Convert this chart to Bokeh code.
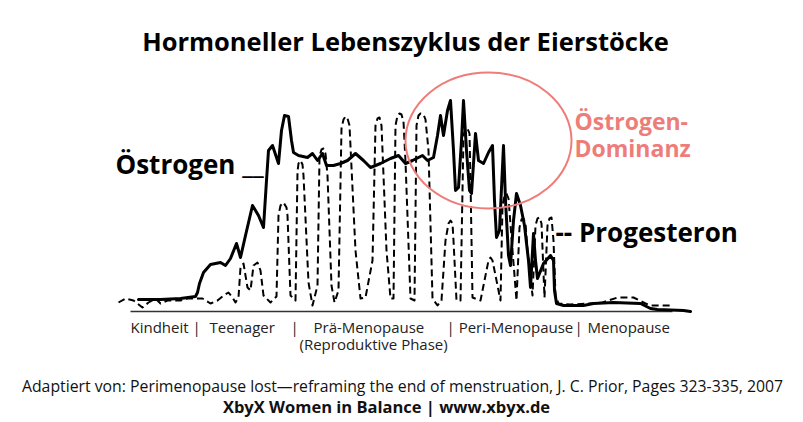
from bokeh.plotting import figure
from bokeh.models import Range1d
from bokeh.core.properties import value
from bokeh.embed import file_html
from bokeh.resources import INLINE

# --- data (x = time axis, y = hormone level above baseline) ---
estrogen_x = [138, 160, 180, 195, 197, 199, 203, 210, 220, 225, 230, 236, 238, 240, 245, 252, 258, 263,
              266, 268, 272, 278, 281, 284, 288, 291, 293, 298, 307, 312, 317, 322, 326, 333, 340, 347,
              355, 363, 370, 380, 390, 398, 405, 412, 422, 427, 433, 437, 440, 443, 447, 450, 453, 455,
              458, 461, 463, 466, 469, 471, 475, 478, 483, 488, 492, 494, 496, 499, 503, 505, 508, 510,
              513, 516, 520, 524, 528, 530, 533, 535, 537, 543, 550, 553, 554, 556, 563, 583, 593, 613,
              640, 650, 657, 683, 690]
estrogen_y = [12, 12, 13, 15, 19, 28, 39, 47, 49, 46, 53, 68, 61, 54, 76, 106, 96, 84,
              131, 161, 166, 148, 181, 196, 195, 171, 159, 156, 154, 158, 151, 158, 146, 146, 148, 151,
              158, 151, 144, 148, 153, 156, 148, 151, 156, 151, 154, 176, 196, 176, 201, 211, 161, 121,
              124, 171, 211, 161, 121, 118, 178, 151, 148, 159, 166, 111, 74, 81, 166, 111, 56, 46,
              91, 118, 106, 86, 51, 24, 78, 51, 33, 48, 56, 51, 21, 8, 6, 6, 8, 9,
              8, 3, 2, 1, 0]

progesterone_x = [118, 125, 133, 142, 148, 155, 160, 167, 180, 187, 202, 210, 217, 223, 228, 232, 235, 238,
                  240, 243, 247, 250, 253, 257, 260, 263, 270, 276, 278, 280, 283, 286, 287, 290, 295, 297,
                  298, 300, 302, 303, 308, 312, 317, 319, 321, 323, 325, 327, 331, 334, 338, 341, 343, 345,
                  347, 349, 355, 360, 365, 372, 375, 377, 379, 381, 386, 390, 393, 395, 397, 399, 401, 403,
                  405, 410, 414, 416, 418, 420, 423, 425, 428, 432, 437, 441, 445, 448, 450, 452, 453, 456,
                  460, 463, 465, 467, 469, 470, 472, 480, 486, 488, 490, 492, 494, 500, 502, 504, 506, 508,
                  512, 516, 519, 521, 523, 525, 527, 532, 535, 537, 539, 541, 544, 547, 549, 551, 553, 555,
                  558, 570, 590, 602, 617, 633, 645, 650, 670]
progesterone_y = [9, 13, 11, 4, 9, 13, 8, 11, 11, 13, 13, 8, 11, 16, 19, 14, 9, 14,
                  44, 48, 24, 21, 46, 49, 41, 16, 9, 15, 96, 106, 109, 104, 96, 16, 11, 140,
                  148, 151, 147, 136, 29, 6, 26, 155, 162, 163, 158, 136, 26, 9, 21, 183, 192, 195,
                  193, 186, 61, 13, 14, 51, 186, 193, 194, 186, 61, 13, 13, 186, 196, 198, 197, 190,
                  150, 13, 11, 186, 196, 198, 197, 192, 161, 13, 6, 11, 71, 88, 91, 88, 71, 11,
                  11, 176, 183, 183, 178, 131, 14, 11, 41, 51, 54, 51, 41, 11, 106, 116, 118, 113,
                  61, 11, 84, 92, 93, 88, 61, 16, 86, 93, 94, 88, 14, 86, 93, 94, 71, 16,
                  8, 7, 8, 9, 14, 14, 8, 6, 6]

axis_x = [130, 672]
axis_y = [0, 0]

dominance_center = (488, 171)
dominance_size = (166, 136)

title = "Hormoneller Lebenszyklus der Eierstöcke"
phase_labels = ["Kindheit |", "Teenager", "|", "Prä-Menopause", "| Peri-Menopause", "|", "Menopause"]
phase_x = [130, 209, 290, 313, 446, 574, 587]
sub_label = "(Reproduktive Phase)"
source_line = "Adaptiert von: Perimenopause lost\u2014reframing the end of menstruation, J. C. Prior, Pages 323-335, 2007"
brand_line = "XbyX Women in Balance | www.xbyx.de"

FONT = value("Open Sans")
CORAL = "#EE7D7A"

p = figure(width=795, height=420, output_backend="svg", toolbar_location=None,
           x_range=Range1d(0, 795), y_range=Range1d(-109, 311),
           min_border=0, min_border_left=0, min_border_right=0, min_border_top=0, min_border_bottom=0)
p.axis.visible = False
p.grid.visible = False
p.outline_line_color = None
p.background_fill_color = "white"

# baseline
p.line(axis_x, axis_y, line_color="#333333", line_width=1.5)

# curves
p.line(progesterone_x, progesterone_y, line_color="black", line_width=2, line_dash="7 4",
       line_join="round")
p.line(estrogen_x, estrogen_y, line_color="black", line_width=3, line_join="round", line_cap="round")

# dominance ellipse
p.ellipse(x=[dominance_center[0]], y=[dominance_center[1]], width=[dominance_size[0]],
          height=[dominance_size[1]], fill_color=None, line_color=CORAL, line_width=2)

# texts
p.text(x=[405], y=[271], text=[title], text_font=FONT, text_font_style="bold",
       text_font_size="25.5px", text_align="center", text_baseline="middle", text_color="black")
p.text(x=[115], y=[148], text=["Östrogen __"], text_font=FONT, text_font_style="bold",
       text_font_size="26px", text_align="left", text_baseline="middle", text_color="black")
p.text(x=[574, 574], y=[191, 164], text=["Östrogen-", "Dominanz"], text_font=FONT,
       text_font_style="bold", text_font_size="23px", text_align="left", text_baseline="middle",
       text_color=CORAL)
p.text(x=[555], y=[80], text=["-- Progesteron"], text_font=FONT, text_font_style="bold",
       text_font_size="26px", text_align="left", text_baseline="middle", text_color="black")
p.text(x=phase_x, y=[-15] * len(phase_x), text=phase_labels, text_font=FONT,
       text_font_size="15px", text_align="left", text_baseline="middle", text_color="#222222")
p.text(x=[299], y=[-32], text=[sub_label], text_font=FONT,
       text_font_size="15px", text_align="left", text_baseline="middle", text_color="#222222")
p.text(x=[402], y=[-74], text=[source_line], text_font=FONT,
       text_font_size="15.8px", text_align="center", text_baseline="middle", text_color="#111111")
p.text(x=[386], y=[-95], text=[brand_line], text_font=FONT, text_font_style="bold",
       text_font_size="16.5px", text_align="center", text_baseline="middle", text_color="#111111")

open("out.html", "w").write(file_html(p, INLINE))
